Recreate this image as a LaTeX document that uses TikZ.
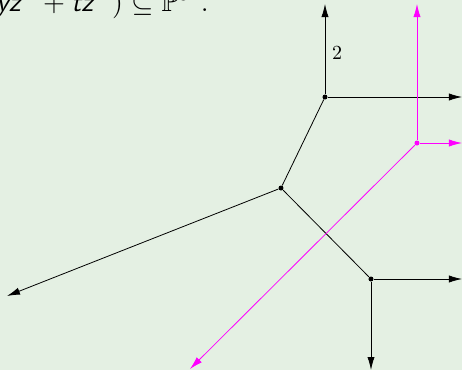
\documentclass[tikz,border=0pt]{standalone}
\usepackage{amsmath,amssymb}
\usetikzlibrary{arrows.meta}
\definecolor{bgc}{RGB}{228,240,227}
\definecolor{mag}{RGB}{255,0,255}
\newcommand{\sv}[1]{\text{\sffamily\itshape #1}}
\tikzset{
  dotnode/.style={circle,fill=black,inner sep=0pt,minimum size=2.5pt},
  mdot/.style={circle,fill=mag,inner sep=0pt,minimum size=2.5pt},
  ray/.style={-{Latex[length=6.5pt,width=3.6pt]}},
  mray/.style={draw=mag,-{Latex[length=6.5pt,width=3.6pt]}},
}
\begin{document}
\begin{tikzpicture}[x=0.5pt,y=-0.5pt]
\fill[bgc] (0,0) rectangle (462,370);
\clip (0,0) rectangle (462,370);
\useasboundingbox (0,0) rectangle (462,370);
% title (cut off at the top edge)
\node[anchor=base west,inner sep=0pt,font=\fontsize{14}{16}\selectfont] (title) at (-4,11)
  {$\sv{yz}^2\mkern3mu + \sv{tz}^2\mkern5mu) \subseteq \mathbb{P}^3\mkern7mu.$};
% black curve
\node[dotnode] (A) at (325,97) {};
\node[dotnode] (B) at (281,188) {};
\node[dotnode] (C) at (371,279) {};
\coordinate (Aup) at (325,4);
\coordinate (Aright) at (462,97);
\coordinate (Bleft) at (7,296);
\coordinate (Cright) at (462,279);
\coordinate (Cdown) at (371,370);
\draw[ray] (A) -- (Aup);
\draw[ray] (A) -- (Aright);
\draw (A) -- (B);
\draw (B) -- (C);
\draw[ray] (B) -- (Bleft);
\draw[ray] (C) -- (Cright);
\draw[ray] (C) -- (Cdown);
\node[font=\normalsize] (lab) at (337,53) {$2$};
% magenta curve
\node[mdot] (M) at (417,143) {};
\coordinate (Mup) at (417,4);
\coordinate (Mright) at (462,143);
\coordinate (Mdl) at (190,369);
\draw[mray] (M) -- (Mup);
\draw[mray] (M) -- (Mright);
\draw[mray] (M) -- (Mdl);
\end{tikzpicture}
\end{document}
